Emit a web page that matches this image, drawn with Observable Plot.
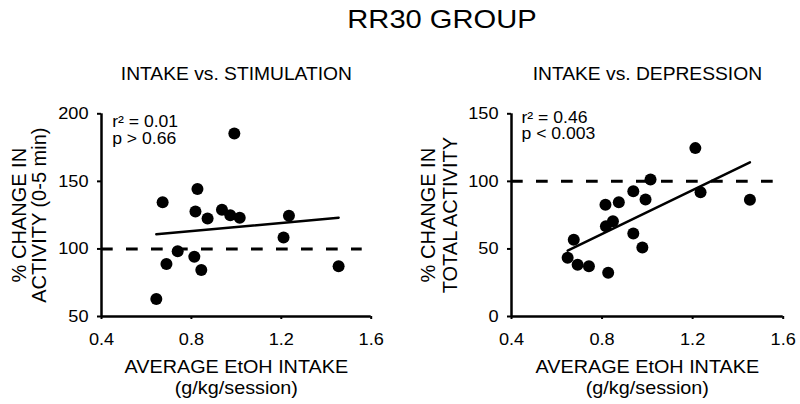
<!DOCTYPE html>
<html>
<head>
<meta charset="utf-8">
<script src="https://cdn.jsdelivr.net/npm/d3@7"></script>
<script src="https://cdn.jsdelivr.net/npm/@observablehq/plot@0.6"></script>
<style>
  body { margin: 0; background: #fff; }
  #wrap { width: 800px; height: 404px; position: relative; font-family: "Liberation Sans", Arial, sans-serif; color: #000; overflow: hidden; }
  #title { position: absolute; left: 442px; top: 6px; font-size: 26px; line-height: 1; white-space: nowrap; transform: translateX(-50%) scaleX(1.12); }
  #charts { position: absolute; top: 40px; left: 0; display: flex; }
</style>
</head>
<body>
<div id="wrap">
  <div id="title">RR30 GROUP</div>
  <div id="charts"></div>
</div>
<script>
// ---- data ----
const chartTitle = "RR30 GROUP";
const xTicks = [0.4, 0.8, 1.2, 1.6];
const xTickLabels = ["0.4", "0.8", "1.2", "1.6"];
const xLabelLines = ["AVERAGE EtOH INTAKE", "(g/kg/session)"];
const refValue = [100];

const leftTitle = "INTAKE vs. STIMULATION";
const leftYLines = ["% CHANGE IN", "ACTIVITY (0-5 min)"];
const leftYTicks = [50, 100, 150, 200];
const leftStats = ["r² = 0.01", "p > 0.66"];
const leftIntake   = [0.991, 0.672, 0.827, 0.818, 0.872, 0.936, 0.973, 1.015, 1.234, 1.210, 0.739, 0.689, 0.813, 0.844, 0.644, 1.455];
const leftActivity = [185.4, 134.6, 144.3, 127.7, 122.5, 129.0, 125.0, 123.0, 124.5, 108.4, 98.3, 88.9, 94.3, 84.4, 62.9, 87.1];

const rightTitle = "INTAKE vs. DEPRESSION";
const rightYLines = ["% CHANGE IN", "TOTAL ACTIVITY"];
const rightYTicks = [0, 50, 100, 150];
const rightStats = ["r² = 0.46", "p < 0.003"];
const rightIntake   = [1.212, 1.014, 1.235, 1.453, 0.938, 0.992, 0.874, 0.815, 0.848, 0.817, 0.938, 0.978, 0.675, 0.648, 0.692, 0.742, 0.827];
const rightActivity = [124.6, 101.4, 92.0, 86.4, 92.7, 86.6, 84.6, 82.7, 70.5, 66.8, 61.4, 51.1, 56.8, 43.4, 38.3, 37.2, 32.3];

document.getElementById("title").textContent = chartTitle;

const FONT = '"Liberation Sans", Arial, sans-serif';
const SX = 1.1; // horizontal stretch of the reference text

function panel(cfg) {
  const data = cfg.xs.map((x, i) => ({x, y: cfg.ys[i]}));
  const [y0, y1] = [cfg.yTicks[0], cfg.yTicks[cfg.yTicks.length - 1]];
  const svg = Plot.plot({
    width: 400,
    height: 364,
    marginLeft: cfg.ml,
    marginRight: cfg.mr,
    marginTop: 73.3,
    marginBottom: 88,
    x: {domain: [xTicks[0], xTicks[xTicks.length - 1]]},
    y: {domain: [y0, y1]},
    style: {fontFamily: FONT, color: "#000", background: "#fff", overflow: "visible"},
    marks: [
      Plot.axisX({ticks: xTicks, tickFormat: (d) => xTickLabels[xTicks.indexOf(d)], tickSize: 3, tickPadding: 14, fontSize: 16.5, label: null, strokeWidth: 2}),
      Plot.axisY({ticks: cfg.yTicks, tickFormat: (d) => String(d), tickSize: 4, tickPadding: 9, fontSize: 16.5, label: null, strokeWidth: 2}),
      Plot.ruleX([xTicks[0]], {stroke: "#000", strokeWidth: 2.5}),
      Plot.ruleY([y0], {stroke: "#000", strokeWidth: 2.5}),
      Plot.ruleY(refValue, {x1: xTicks[0], x2: 1.56, stroke: "#000", strokeWidth: 3, strokeDasharray: "11.7,13.3"}),
      Plot.linearRegressionY(data, {x: "x", y: "y", ci: 0, stroke: "#000", strokeWidth: 2.5}),
      Plot.dot(data, {x: "x", y: "y", r: 6, fill: "#000", stroke: null}),
      // subtitle
      Plot.text([cfg.title], {frameAnchor: "top", lineAnchor: "bottom", dy: -34.3, fontSize: 17.5, fill: "#000"}),
      // stats
      Plot.text([cfg.stats[0]], {frameAnchor: "top-left", textAnchor: "start", lineAnchor: "bottom", dx: cfg.sdx, dy: cfg.sdy, fontSize: 16, fill: "#000"}),
      Plot.text([cfg.stats[1]], {frameAnchor: "top-left", textAnchor: "start", lineAnchor: "bottom", dx: cfg.sdx, dy: cfg.sdy + 16.5, fontSize: 16, fill: "#000"}),
      // x label
      Plot.text([xLabelLines[0]], {frameAnchor: "bottom", lineAnchor: "bottom", dy: 56.3, fontSize: 18, fill: "#000"}),
      Plot.text([xLabelLines[1]], {frameAnchor: "bottom", lineAnchor: "bottom", dy: 77, fontSize: 18, fill: "#000"}),
      // y label
      Plot.text([cfg.yLines[0]], {frameAnchor: "left", textAnchor: "middle", rotate: -90, lineAnchor: "bottom", dx: cfg.ydx[0], fontSize: 20, fill: "#000"}),
      Plot.text([cfg.yLines[1]], {frameAnchor: "left", textAnchor: "middle", rotate: -90, lineAnchor: "bottom", dx: cfg.ydx[1], fontSize: 20, fill: "#000"})
    ]
  });
  svg.querySelectorAll("text").forEach((t) => {
    const tr = t.getAttribute("transform") || "";
    if (tr.includes("rotate")) return;
    const x = +t.getAttribute("x") || 0, y = +t.getAttribute("y") || 0;
    t.setAttribute("transform", `${tr} translate(${x},${y}) scale(${SX},1) translate(${-x},${-y})`);
  });
  return svg;
}

const charts = document.getElementById("charts");
charts.appendChild(panel({
  xs: leftIntake, ys: leftActivity, yTicks: leftYTicks, title: leftTitle, stats: leftStats, yLines: leftYLines,
  ml: 101, mr: 29.3, sdx: 10.7, sdy: 13.4, ydx: [-76, -56]
}));
charts.appendChild(panel({
  xs: rightIntake, ys: rightActivity, yTicks: rightYTicks, title: rightTitle, stats: rightStats, yLines: rightYLines,
  ml: 111, mr: 17.3, sdx: 10, sdy: 8.7, ydx: [-77, -55]
}));
</script>
</body>
</html>
